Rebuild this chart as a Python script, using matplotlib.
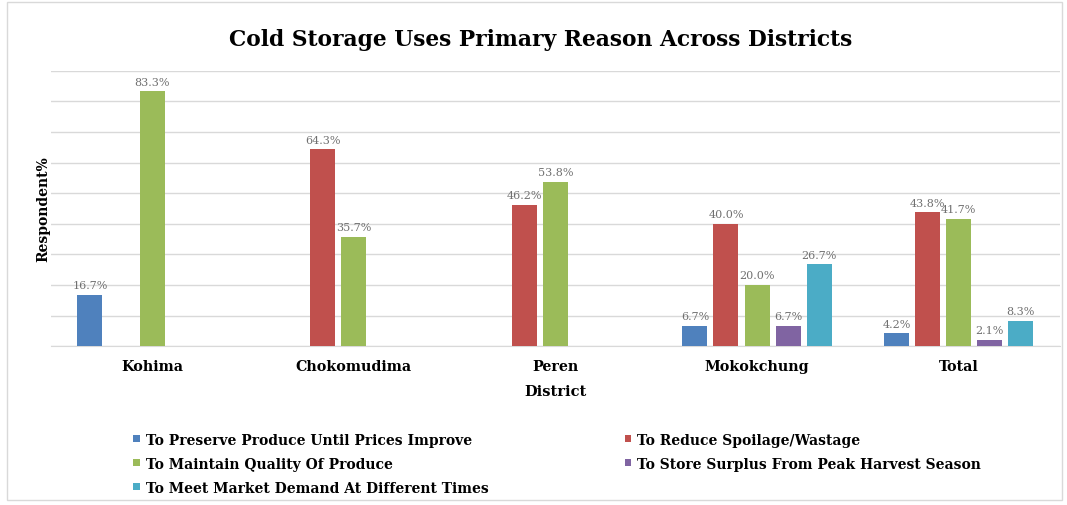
import matplotlib.pyplot as plt
import numpy as np
from matplotlib.patches import Rectangle

districts = ["Kohima", "Chokomudima", "Peren", "Mokokchung", "Total"]
reasons = [
    "To Preserve Produce Until Prices Improve",
    "To Reduce Spoilage/Wastage",
    "To Maintain Quality Of Produce",
    "To Store Surplus From Peak Harvest Season",
    "To Meet Market Demand At Different Times",
]
preserve = [16.7, 0, 0, 6.7, 4.2]
spoilage = [0, 64.3, 46.2, 40.0, 43.8]
quality = [83.3, 35.7, 53.8, 20.0, 41.7]
surplus = [0, 0, 0, 6.7, 2.1]
demand = [0, 0, 0, 26.7, 8.3]
series = [preserve, spoilage, quality, surplus, demand]
colors = ["#4F81BD", "#C0504D", "#9BBB59", "#8064A2", "#4BACC6"]

serif = "DejaVu Serif"

fig = plt.figure(figsize=(10.67, 5.06), dpi=100)
ax = fig.add_axes([0.048, 0.314, 0.945, 0.544])

x = np.arange(len(districts))
width = 0.124
step = 0.154
handles = []
for i, (vals, col, name) in enumerate(zip(series, colors, reasons)):
    vals = np.array(vals, dtype=float)
    h = np.where(vals > 0, vals, np.nan)
    bars = ax.bar(x + (i - 2) * step, h, width, color=col, label=name, zorder=3)
    handles.append(bars)
    for b, v in zip(bars, vals):
        if v > 0:
            ax.text(b.get_x() + b.get_width() / 2, v + 1.5, f"{v:.1f}%",
                    ha="center", va="bottom", fontsize=8, color="#707070",
                    family=serif, zorder=4)

ax.set_xlim(-0.5, len(districts) - 0.5)
ax.set_ylim(0, 90)
ax.set_yticks(np.arange(0, 91, 10))
ax.set_yticklabels([])
ax.tick_params(axis="y", length=0)
ax.tick_params(axis="x", length=0, pad=9)
ax.grid(axis="y", color="#D9D9D9", linewidth=1, zorder=0)
for s in ["top", "right", "left"]:
    ax.spines[s].set_visible(False)
ax.spines["bottom"].set_color("#D9D9D9")

ax.set_xticks(x)
ax.set_xticklabels(districts, family=serif, fontweight="bold", fontsize=10.3)
ax.set_xlabel("District", family=serif, fontweight="bold", fontsize=10.5, labelpad=8)
ax.set_ylabel("Respondent%", family=serif, fontweight="bold", fontsize=10, labelpad=-3)

fig.text(0.507, 0.92, "Cold Storage Uses Primary Reason Across Districts",
         ha="center", va="center", family=serif, fontweight="bold", fontsize=15.7)

# legend reads row by row: two entries per row
order = [0, 2, 4, 1, 3]
fig.legend([handles[k] for k in order], [reasons[k] for k in order],
           loc="upper left", bbox_to_anchor=(0.125, 0.143), ncol=2,
           frameon=False, prop={"family": serif, "weight": "bold", "size": 10},
           handlelength=0.45, handleheight=0.45, handletextpad=0.45,
           columnspacing=9.8, labelspacing=0.72, borderpad=0, borderaxespad=0)

fig.patches.append(Rectangle((0.007, 0.01), 0.988, 0.985, transform=fig.transFigure,
                             fill=False, edgecolor="#D9D9D9", linewidth=1))

fig.savefig("out.png", dpi=100)
